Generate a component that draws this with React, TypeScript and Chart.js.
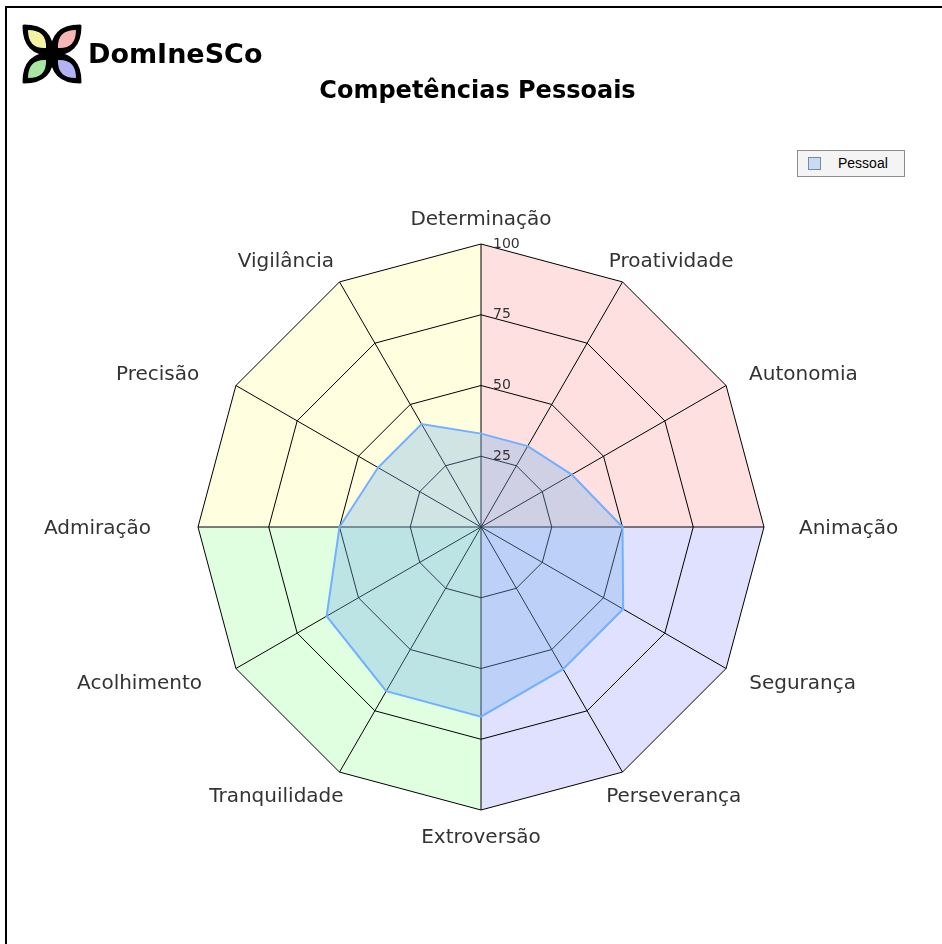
import React, { useEffect, useRef } from "react";
import { Chart, registerables } from "chart.js";

Chart.register(...registerables);

// ---- data ----
const categories = [
  "Determinação",
  "Proatividade",
  "Autonomia",
  "Animação",
  "Segurança",
  "Perseverança",
  "Extroversão",
  "Tranquilidade",
  "Acolhimento",
  "Admiração",
  "Precisão",
  "Vigilância",
];
const pessoalValues = [33, 33, 37, 50, 58, 58, 67, 67, 63, 50, 42, 42];
const tickValues = [0, 25, 50, 75, 100];
const datasetLabel = "Pessoal";
const chartTitle = "Competências Pessoais";
const brandName = "DomIneSCo";
// quadrant fills: top-right, bottom-right, bottom-left, top-left
const quadrantColors = ["#ffe0e0", "#e0e0ff", "#e0ffe0", "#ffffe0"];

const LABEL_FONT = '20px "DejaVu Sans"';
const LABEL_H = 20;

const quadrantPlugin = {
  id: "quadrants",
  beforeDraw(chart: any) {
    const scale = chart.scales.r;
    if (!scale) return;
    const ctx = chart.ctx;
    const n = chart.data.labels.length;
    const q = n / 4;
    const r = scale.drawingArea;
    ctx.save();
    for (let k = 0; k < 4; k++) {
      ctx.beginPath();
      ctx.moveTo(scale.xCenter, scale.yCenter);
      for (let j = 0; j <= q; j++) {
        const p = scale.getPointPosition((k * q + j) % n, r);
        ctx.lineTo(p.x, p.y);
      }
      ctx.closePath();
      ctx.fillStyle = quadrantColors[k];
      ctx.fill();
    }
    ctx.restore();
  },
};

const labelPlugin = {
  id: "spiderLabels",
  afterDraw(chart: any) {
    const scale = chart.scales.r;
    if (!scale) return;
    const ctx = chart.ctx;
    const r = scale.drawingArea;
    const gapX = 35;
    const gapY = 16;
    const leftExtra = 12;
    const yShift = 2;
    ctx.save();
    ctx.font = LABEL_FONT;
    ctx.fillStyle = "#333333";
    ctx.textAlign = "center";
    ctx.textBaseline = "middle";
    chart.data.labels.forEach((label: string, i: number) => {
      const p = scale.getPointPosition(i, r);
      const a = scale.getIndexAngle(i);
      const s = Math.sin(a);
      const c = Math.cos(a);
      const w = ctx.measureText(label).width;
      let x = p.x + s * (gapX + w / 2);
      if (s < -0.01) x -= leftExtra;
      const y = p.y - c * (gapY + LABEL_H / 2) + yShift;
      ctx.fillText(label, x, y);
    });
    // tick labels
    ctx.font = '14px "DejaVu Sans"';
    ctx.textAlign = "left";
    ctx.fillStyle = "#333333";
    scale.ticks.forEach((t: any) => {
      if (t.value === 0) return;
      const d = scale.getDistanceFromCenterForValue(t.value);
      ctx.fillText(String(t.label ?? t.value), scale.xCenter + 12, scale.yCenter - d);
    });
    ctx.restore();
  },
};

function Logo() {
  const leaf = (rot: number, fill: string) => (
    <g transform={`rotate(${rot} 32 32)`}>
      <path d="M32 32 Q33 4 4 4 Q4 33 32 32 Z" fill="#000" stroke="#000" strokeWidth="3" strokeLinejoin="round" />
      <path d="M26 26 Q27 8 8 8 Q8 27 26 26 Z" fill={fill} />
    </g>
  );
  return (
    <svg width="64" height="64" viewBox="0 0 64 64" style={{ position: "absolute", left: 20, top: 22 }}>
      {leaf(0, "#f3f3a2")}
      {leaf(90, "#f6b6b6")}
      {leaf(180, "#b2b2f4")}
      {leaf(270, "#a9e6a2")}
      <circle cx="32" cy="32" r="6" fill="#000" />
    </svg>
  );
}

export default function App() {
  const canvasRef = useRef<HTMLCanvasElement | null>(null);

  useEffect(() => {
    if (!canvasRef.current) return;
    const chart = new Chart(canvasRef.current, {
      type: "radar",
      data: {
        labels: categories,
        datasets: [
          {
            label: datasetLabel,
            data: pessoalValues,
            borderColor: "#70b0ff",
            backgroundColor: "rgba(121,178,235,0.35)",
            borderWidth: 2,
            pointRadius: 0,
            pointHoverRadius: 0,
            fill: true,
            tension: 0,
          },
        ],
      },
      options: {
        responsive: false,
        animation: false,
        devicePixelRatio: 1,
        layout: { padding: { left: 198, right: 178, top: 244, bottom: 134 } },
        plugins: {
          legend: { display: false },
          title: { display: false },
          tooltip: { enabled: false },
        },
        scales: {
          r: {
            min: 0,
            max: 100,
            afterBuildTicks: (s: any) => {
              s.ticks = tickValues.map((v) => ({ value: v, label: String(v) }));
            },
            ticks: { display: false, stepSize: 25 },
            pointLabels: { display: false },
            grid: { color: "#000000", lineWidth: 1, circular: false },
            angleLines: { color: "#000000", lineWidth: 1 },
          },
        },
      },
      plugins: [quadrantPlugin, labelPlugin],
    } as any);
    return () => chart.destroy();
  }, []);

  return (
    <div style={{ position: "absolute", left: 0, top: 0, width: 942, height: 944, overflow: "hidden", background: "#fff" }}>
      <div style={{ position: "absolute", left: 5, top: 6, width: 2000, height: 2000, border: "2px solid #000" }} />
      <canvas ref={canvasRef} width={942} height={944} style={{ position: "absolute", left: 0, top: 0 }} />
      <Logo />
      <div
        style={{
          position: "absolute",
          left: 88,
          top: 38,
          font: 'bold 27px "DejaVu Sans"',
          lineHeight: "32px",
          color: "#000",
          whiteSpace: "nowrap",
        }}
      >
        {brandName}
      </div>
      <div
        style={{
          position: "absolute",
          left: 0,
          width: 955,
          top: 76,
          textAlign: "center",
          font: 'bold 24px "DejaVu Sans"',
          lineHeight: "28px",
          color: "#000",
          whiteSpace: "nowrap",
        }}
      >
        {chartTitle}
      </div>
      <div
        style={{
          position: "absolute",
          left: 797,
          top: 150,
          width: 106,
          height: 25,
          border: "1px solid #8c8c8c",
          background: "#f4f4f4",
        }}
      >
        <div
          style={{
            position: "absolute",
            left: 10,
            top: 6,
            width: 11,
            height: 11,
            border: "1px solid #7a8a9a",
            background: "#c6dbf5",
          }}
        />
        <div
          style={{
            position: "absolute",
            left: 40,
            top: 3,
            font: '14px "Liberation Sans"',
            lineHeight: "18px",
            color: "#000",
            whiteSpace: "nowrap",
          }}
        >
          {datasetLabel}
        </div>
      </div>
    </div>
  );
}
